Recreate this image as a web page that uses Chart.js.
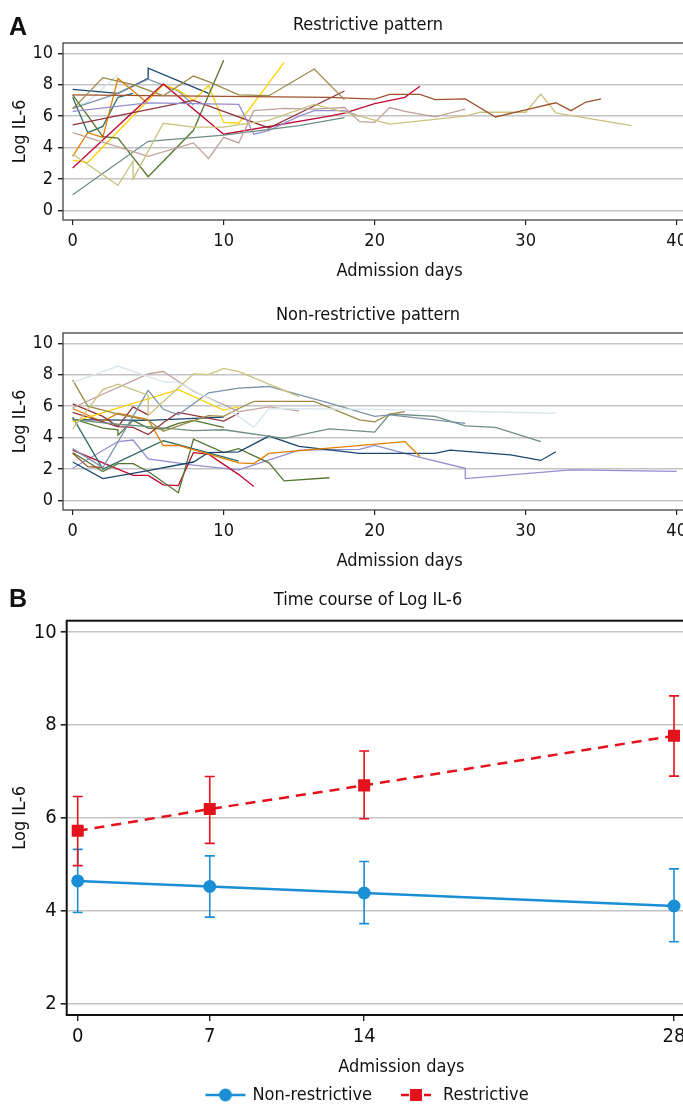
<!DOCTYPE html>
<html>
<head>
<meta charset="utf-8">
<title>Log IL-6</title>
<script src="https://cdn.jsdelivr.net/npm/chart.js@4.4.1/dist/chart.umd.min.js"></script>
<style>
  html, body { margin: 0; padding: 0; background: #fff; overflow: hidden; }
  body { width: 683px; height: 1104px; position: relative; }
  canvas { position: absolute; left: 0; }
  .panel-tag { position: absolute; left: 9px; font: bold 25px 'Liberation Sans', Arial, sans-serif; color: #111; }
</style>
</head>
<body>
<!-- Los lienzos son más anchos que la ventana: en el original el marco se corta por la derecha. -->
<canvas id="chart-restrictive" width="736" height="290" style="top:0"></canvas>
<canvas id="chart-nonrestrictive" width="736" height="290" style="top:290px"></canvas>
<canvas id="chart-course" width="736" height="534" style="top:580px"></canvas>
<div class="panel-tag" style="top:12px">A</div>
<div class="panel-tag" style="top:584px">B</div>
<script>
// Fuente condensada parecida a la del original (Myriad Condensed no está instalada).
const FONT = "'Liberation Sans Narrow', 'DejaVu Sans Condensed', sans-serif";

// Paleta s2color de Stata, la que usa el original para cada paciente.
const STATA = {
  navy: '#1a476f', maroon: '#90353b', forest: '#55752f', dkorange: '#e37e00',
  teal: '#6e8e84', cranberry: '#c10534', lavender: '#938dd2', khaki: '#cac27e',
  sienna: '#a0522d', emidblue: '#7b92a8', emerald: '#2d6d66', brown: '#9c8847',
  erose: '#bfa19c', gold: '#ffd200', bluishgray: '#d9e6eb'
};

// ---- Panel A: trayectorias individuales [día, Log IL-6] ----
const DAY_TICKS = [0, 10, 20, 30, 40];
const LOG_TICKS = [0, 2, 4, 6, 8, 10];

const restrictivePatients = [
  [[0, 6.45], [2, 8.45], [4, 8.0], [6, 7.3], [8, 8.55], [9, 8.2], [11, 7.35], [13, 7.3], [16, 9.0], [18, 7.05]],
  [[0, 7.35], [17, 7.2], [20, 7.08], [21, 7.38], [23, 7.38], [24, 7.05], [26, 7.1], [28, 5.95], [30, 6.4], [32, 6.85], [33, 6.35], [34, 6.9], [35, 7.1]],
  [[0, 3.6], [3, 1.6], [4, 3.15], [4, 2.0], [6, 5.55], [8, 5.3], [10, 5.3], [13, 5.75], [16, 6.75], [19, 6.0], [21, 5.5], [26, 6.0], [27, 6.25], [30, 6.25], [31, 7.4], [32, 6.2], [37, 5.4]],
  [[0, 4.95], [5, 3.45], [8, 4.3], [9, 3.3], [10, 4.65], [11, 4.3], [12, 6.35], [14, 6.5], [16, 6.45], [18, 6.55], [19, 5.65], [20, 5.6], [21, 6.55], [22, 6.3], [24, 5.95], [26, 6.45]],
  [[0, 1.0], [5, 4.4], [10, 4.8], [15, 5.4], [18, 5.9]],
  [[0, 6.3], [5, 6.85], [11, 6.75], [12, 4.85], [13, 5.1], [15, 6.0], [16, 6.35], [18, 6.35], [19, 6.0]],
  [[0, 5.45], [8, 7.0], [13, 5.25], [18, 7.6]],
  [[0, 2.7], [6, 8.05], [10, 4.85], [17, 6.0], [18, 6.2], [20, 6.8], [22, 7.2], [23, 7.9]],
  [[0, 7.35], [2, 4.7], [3, 4.6], [5, 2.15], [8, 5.1], [10, 9.55]],
  [[0, 3.2], [1, 3.05], [6, 8.0], [7, 7.65], [8, 7.0], [9, 7.95], [10, 5.6], [11, 5.55], [14, 9.4]],
  [[0, 3.45], [1, 4.95], [2, 4.65], [3, 8.4], [5, 6.8]],
  [[0, 7.2], [1, 4.95], [2, 5.35], [3, 7.2], [4, 7.45]],
  [[0, 6.5], [3, 7.45], [5, 8.35], [7, 7.6], [8, 6.7]],
  [[0, 7.7], [3, 7.45], [5, 8.4], [5, 9.05], [9, 7.45]],
  [[0, 6.6], [1, 6.9], [3, 8.65]]
];
const restrictiveColors = [
  'brown', 'sienna', 'khaki', 'erose', 'teal', 'lavender', 'maroon', 'cranberry',
  'forest', 'gold', 'dkorange', 'emerald', 'emidblue', 'navy', 'bluishgray'
];

const nonRestrictivePatients = [
  [[0, 7.5], [3, 8.55], [6, 7.55], [7, 7.5], [10, 6.0], [12, 4.65], [13, 5.85], [20, 5.8], [32, 5.55]],
  [[0, 4.55], [2, 7.05], [3, 7.4], [5, 6.7], [5, 5.4], [8, 8.05], [9, 8.0], [10, 8.4], [11, 8.2], [15, 6.6]],
  [[0, 5.9], [5, 8.05], [6, 8.2], [8, 6.95], [11, 5.65], [13, 5.95], [15, 5.7]],
  [[0, 3.3], [2, 2.1], [5, 7.0], [6, 5.8], [7, 5.45], [9, 6.85], [11, 7.15], [13, 7.25], [17, 6.2], [20, 5.35], [21, 5.45], [26, 4.9]],
  [[0, 7.65], [1, 6.0], [3, 5.5], [5, 5.1], [6, 4.4], [7, 4.75], [9, 5.4], [10, 5.35], [11, 5.85], [12, 6.3], [16, 6.3], [19, 5.13], [20, 5.0], [21, 5.5], [22, 5.65]],
  [[0, 5.15], [3, 4.85], [5, 4.7], [8, 4.45], [10, 4.5], [14, 3.95], [17, 4.55], [20, 4.35], [21, 5.5], [24, 5.35], [26, 4.75], [28, 4.65], [31, 3.75]],
  [[0, 5.0], [7, 7.05], [10, 5.75], [11, 5.95]],
  [[0, 6.15], [2, 5.35], [3, 4.7], [4, 5.95], [5, 5.45]],
  [[0, 5.6], [2, 5.0], [3, 4.7], [4, 4.65], [5, 4.2], [6, 4.95], [7, 5.6], [10, 5.05], [11, 5.55]],
  [[0, 5.85], [2, 5.0], [3, 5.55], [5, 5.15], [6, 3.5], [7, 3.5], [11, 2.4], [12, 2.35], [13, 3.0], [16, 3.25], [22, 3.75], [23, 2.8]],
  [[0, 3.0], [1, 2.15], [2, 2.1]],
  [[0, 5.15], [5, 5.1], [10, 5.3]],
  [[0, 2.45], [2, 1.4], [5, 1.9], [8, 2.45], [9, 3.05], [11, 3.1], [13, 4.1], [15, 3.45], [19, 3.0], [24, 3.0], [25, 3.2], [29, 2.9], [31, 2.55], [32, 3.1]],
  [[0, 5.3], [2, 2.0], [6, 3.8], [7, 3.55], [11, 2.5]],
  [[0, 5.2], [2, 4.6], [3, 4.5], [3, 4.15], [4, 5.1], [5, 4.6], [6, 4.55], [7, 4.9], [8, 5.1], [10, 4.65]],
  [[0, 3.05], [2, 1.85], [3, 2.35], [4, 2.35], [5, 1.85], [7, 0.5], [8, 3.9], [10, 3.05], [11, 3.3], [13, 2.4], [14, 1.25], [17, 1.45]],
  [[0, 3.2], [3, 2.0], [4, 1.6], [5, 1.6], [6, 1.0], [7, 0.95], [8, 3.05], [9, 2.95], [11, 1.65], [12, 0.9]],
  [[0, 2.05], [3, 3.75], [4, 3.85], [5, 2.65], [8, 2.25], [11, 1.95], [15, 3.2], [19, 3.25], [20, 3.5], [23, 2.75], [26, 2.05], [26, 1.4], [33, 1.95], [40, 1.85]]
];
const nonRestrictiveColors = [
  'bluishgray', 'khaki', 'erose', 'emidblue', 'brown', 'teal', 'gold', 'maroon', 'maroon',
  'dkorange', 'sienna', 'navy', 'navy', 'emerald', 'forest', 'forest', 'cranberry', 'lavender'
];

// ---- Panel B: medias con intervalo por visita ----
// Las visitas no quedan equiespaciadas en el original; posición leída del eje.
const courseDayPos = [0, 6.2, 13.45, 28];
const courseDayLabels = ['0', '7', '14', '28'];
const COURSE_TICKS = [2, 4, 6, 8, 10];
const nonRestrictiveMean = [4.64, 4.52, 4.38, 4.1];
const nonRestrictiveLow = [3.96, 3.86, 3.72, 3.33];
const nonRestrictiveHigh = [5.32, 5.18, 5.06, 4.9];
const restrictiveMean = [5.72, 6.19, 6.7, 7.77];
const restrictiveLow = [4.97, 5.45, 5.98, 6.9];
const restrictiveHigh = [6.46, 6.89, 7.44, 8.63];

const BLUE = '#1a8fd6';
const RED = '#e4121c';
const GRID = '#c4c4c4';

Chart.defaults.font.family = FONT;
Chart.defaults.color = '#111';

// Marco alrededor del área de datos (el original lo dibuja completo).
const framePlugin = {
  id: 'frame',
  beforeDatasetsDraw(chart, args, opts) {
    const { ctx, chartArea: a } = chart;
    ctx.save();
    ctx.strokeStyle = opts.color;
    ctx.lineWidth = opts.width;
    ctx.strokeRect(a.left, a.top, a.right - a.left, a.bottom - a.top);
    ctx.restore();
  }
};

// Chart.js no trae barras de error: se pintan con las escalas del propio gráfico.
const errorBarPlugin = {
  id: 'errorBars',
  beforeDatasetsDraw(chart) {
    const { ctx, scales: { x, y } } = chart;
    chart.data.datasets.forEach(ds => {
      if (!ds.errLow) return;
      ctx.save();
      ctx.strokeStyle = ds.borderColor;
      ctx.lineWidth = 1.6;
      ds.data.forEach((p, i) => {
        const px = x.getPixelForValue(p.x);
        const top = y.getPixelForValue(ds.errHigh[i]);
        const bot = y.getPixelForValue(ds.errLow[i]);
        ctx.beginPath();
        ctx.moveTo(px, top); ctx.lineTo(px, bot);
        ctx.moveTo(px - 5, top); ctx.lineTo(px + 5, top);
        ctx.moveTo(px - 5, bot); ctx.lineTo(px + 5, bot);
        ctx.stroke();
      });
      ctx.restore();
    });
  }
};

function toPoints(pairs) {
  return pairs.map(([x, y]) => ({ x, y }));
}

function fixedTicks(values) {
  return scale => { scale.ticks = values.map(v => ({ value: v })); };
}

function spaghettiChart(id, title, patients, colors) {
  return new Chart(document.getElementById(id), {
    type: 'line',
    data: {
      datasets: patients.map((pts, i) => ({
        data: toPoints(pts),
        borderColor: STATA[colors[i]],
        borderWidth: 1.3,
        pointRadius: 0,
        tension: 0
      }))
    },
    options: {
      responsive: false,
      animation: false,
      events: [],
      layout: { padding: 0, autoPadding: false },
      plugins: {
        legend: { display: false },
        tooltip: { enabled: false },
        title: {
          display: true, text: title, color: '#111',
          font: { size: 18, weight: 'normal' }, padding: { top: 14.2, bottom: 7.2 }
        },
        frame: { color: '#333', width: 1.2 }
      },
      scales: {
        x: {
          type: 'linear', min: -0.64, max: 43.93,
          afterBuildTicks: fixedTicks(DAY_TICKS),
          afterFit: s => { s.height = 70; },
          grid: { drawOnChartArea: false, tickLength: 5, tickColor: '#222', lineWidth: 1.2 },
          border: { display: false },
          ticks: { font: { size: 18 }, padding: 6, color: '#111', maxRotation: 0 },
          title: { display: true, text: 'Admission days', font: { size: 18 }, color: '#111', padding: { top: 0, bottom: 8.2 } }
        },
        y: {
          min: -0.6, max: 10.65,
          afterBuildTicks: fixedTicks(LOG_TICKS),
          afterFit: s => { s.width = 63; },
          grid: { color: GRID, lineWidth: 1.4, tickLength: 5, tickColor: '#222' },
          border: { display: false },
          ticks: { font: { size: 18 }, padding: 5, color: '#111' },
          title: { display: true, text: 'Log IL-6', font: { size: 18 }, color: '#111', padding: { top: 9.2, bottom: 0 } }
        }
      }
    },
    plugins: [framePlugin]
  });
}

// Muestra de leyenda estilo Stata: tramo de línea + marcador.
function legendSample(color, dashed, marker) {
  const c = document.createElement('canvas');
  c.width = 42; c.height = 16;
  const g = c.getContext('2d');
  g.strokeStyle = color;
  g.fillStyle = color;
  g.lineWidth = 2.5;
  g.beginPath();
  if (dashed) {
    g.moveTo(6, 8); g.lineTo(14, 8);
    g.moveTo(29, 8); g.lineTo(36, 8);
  } else {
    g.moveTo(1, 8); g.lineTo(41, 8);
  }
  g.stroke();
  if (marker === 'circle') {
    g.beginPath(); g.arc(21, 8, 6.5, 0, Math.PI * 2); g.fill();
  } else {
    g.fillRect(15, 2, 12, 12);
  }
  return c;
}

function courseChart() {
  const samples = [legendSample(BLUE, false, 'circle'), legendSample(RED, true, 'rect')];
  return new Chart(document.getElementById('chart-course'), {
    type: 'line',
    data: {
      datasets: [
        {
          label: 'Non-restrictive',
          data: courseDayPos.map((x, i) => ({ x, y: nonRestrictiveMean[i] })),
          errLow: nonRestrictiveLow, errHigh: nonRestrictiveHigh,
          borderColor: BLUE, backgroundColor: BLUE, borderWidth: 2.5,
          pointStyle: 'circle', pointRadius: 6.5, pointBorderWidth: 0, tension: 0
        },
        {
          label: 'Restrictive',
          data: courseDayPos.map((x, i) => ({ x, y: restrictiveMean[i] })),
          errLow: restrictiveLow, errHigh: restrictiveHigh,
          borderColor: RED, backgroundColor: RED, borderWidth: 2.5, borderDash: [10, 7],
          pointStyle: 'rect', pointRadius: 8.5, pointBorderWidth: 0, tension: 0
        }
      ]
    },
    options: {
      responsive: false,
      animation: false,
      events: [],
      layout: { padding: 0, autoPadding: false },
      plugins: {
        tooltip: { enabled: false },
        title: {
          display: true, text: 'Time course of Log IL-6', color: '#111',
          font: { size: 18, weight: 'normal' }, padding: { top: 9.2, bottom: 9.9 }
        },
        // El padding separa los dos ítems; también suma alto a la caja, por eso
        // el eje X es más bajo y su título lleva padding negativo.
        legend: {
          position: 'bottom',
          labels: {
            usePointStyle: true, pointStyleWidth: 36, color: '#111', font: { size: 18 }, padding: 26,
            generateLabels: chart => Chart.defaults.plugins.legend.labels.generateLabels(chart)
              .map((item, i) => ({ ...item, pointStyle: samples[i] }))
          }
        },
        frame: { color: '#111', width: 2 }
      },
      scales: {
        x: {
          type: 'linear', min: -0.517, max: 30.91,
          afterBuildTicks: fixedTicks(courseDayPos),
          afterFit: s => { s.height = 45; },
          grid: { drawOnChartArea: false, tickLength: 6, tickColor: '#222', lineWidth: 1.4 },
          border: { display: false },
          ticks: { font: { size: 20 }, padding: 4, color: '#111', maxRotation: 0, callback: (v, i) => courseDayLabels[i] },
          title: { display: true, text: 'Admission days', font: { size: 18 }, color: '#111', padding: { top: 0, bottom: -17.8 } }
        },
        y: {
          min: 1.75, max: 10.25,
          afterBuildTicks: fixedTicks(COURSE_TICKS),
          afterFit: s => { s.width = 66.7; },
          grid: { color: GRID, lineWidth: 1.6, tickLength: 6, tickColor: '#222' },
          border: { display: false },
          ticks: { font: { size: 20 }, padding: 4, color: '#111' },
          title: { display: true, text: 'Log IL-6', font: { size: 18 }, color: '#111', padding: { top: 9.2, bottom: 0 } }
        }
      }
    },
    plugins: [framePlugin, errorBarPlugin]
  });
}

spaghettiChart('chart-restrictive', 'Restrictive pattern', restrictivePatients, restrictiveColors);
spaghettiChart('chart-nonrestrictive', 'Non-restrictive pattern', nonRestrictivePatients, nonRestrictiveColors);
courseChart();
</script>
</body>
</html>
